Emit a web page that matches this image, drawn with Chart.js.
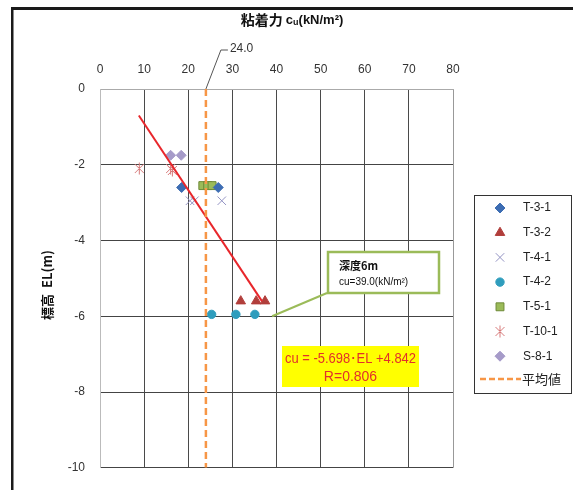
<!DOCTYPE html>
<html>
<head>
<meta charset="utf-8">
<script src="https://cdn.jsdelivr.net/npm/chart.js"></script>
<style>
  html, body { margin: 0; padding: 0; background: #fff; }
</style>
</head>
<body>
<canvas id="chart" width="573" height="490"></canvas>
<script>
// ---- data ----
const xTicks = [0, 10, 20, 30, 40, 50, 60, 70, 80];
const yTicks = [0, -2, -4, -6, -8, -10];

const t31 = [{ x: 18.5, y: -2.6 }, { x: 26.8, y: -2.6 }];
const t32 = [{ x: 31.9, y: -5.6 }, { x: 35.4, y: -5.6 }, { x: 37.4, y: -5.6 }];
const t41 = [{ x: 20.4, y: -2.95 }, { x: 21.4, y: -2.95 }, { x: 27.6, y: -2.95 }];
const t42 = [{ x: 25.3, y: -5.95 }, { x: 30.8, y: -5.95 }, { x: 35.1, y: -5.95 }];
const t51 = [{ x: 23.3, y: -2.55 }, { x: 24.4, y: -2.55 }, { x: 25.4, y: -2.55 }];
const t101 = [{ x: 8.9, y: -2.1 }, { x: 16.0, y: -2.1 }, { x: 16.4, y: -2.15 }];
const s81 = [{ x: 16.0, y: -1.75 }, { x: 18.4, y: -1.75 }];

const meanValue = 24.0;
const meanLine = [{ x: 24.0, y: 0 }, { x: 24.0, y: -10 }];
const fitLine = [{ x: 8.8, y: -0.7 }, { x: 36.7, y: -5.6 }];
const notePoint = { x: 39.0, y: -6.0 };
const noteText = ['深度6m', 'cu=39.0(kN/m²)'];
const fitText = ['cu = -5.698･EL +4.842', 'R=0.806'];

// ---- layout constants ----
const PLOT = { left: 100, top: 89, right: 453, bottom: 483 };
const FONT = "'Liberation Sans', Arial, sans-serif";
const CJK = "'Noto Sans CJK JP', 'Noto Sans', sans-serif";

// excel-like asterisk marker (x + vertical bar)
function makeAsterisk(color) {
  const c = document.createElement('canvas');
  c.width = 13; c.height = 13;
  const g = c.getContext('2d');
  g.strokeStyle = color;
  g.lineWidth = 1;
  g.beginPath();
  g.moveTo(2, 2); g.lineTo(11, 11);
  g.moveTo(11, 2); g.lineTo(2, 11);
  g.moveTo(6.5, 0.5); g.lineTo(6.5, 12.5);
  g.stroke();
  return c;
}
const asterisk = makeAsterisk('#d77a7a');

const series = [
  { label: 'T-3-1', data: t31, pointStyle: 'rectRot', pointRadius: 5, backgroundColor: '#3d6db3', borderColor: '#3d6db3', borderWidth: 1 },
  { label: 'T-3-2', data: t32, pointStyle: 'triangle', pointRadius: 5.5, backgroundColor: '#b13e3b', borderColor: '#b13e3b', borderWidth: 1 },
  { label: 'T-4-1', data: t41, pointStyle: 'crossRot', pointRadius: 6, backgroundColor: '#9494c4', borderColor: '#9494c4', borderWidth: 1 },
  { label: 'T-4-2', data: t42, pointStyle: 'circle', pointRadius: 4.2, backgroundColor: '#2f9dbd', borderColor: '#2f9dbd', borderWidth: 1 },
  { label: 'T-5-1', data: t51, pointStyle: 'rect', pointRadius: 5.6, backgroundColor: '#9bbb59', borderColor: '#6e8a38', borderWidth: 1 },
  { label: 'T-10-1', data: t101, pointStyle: asterisk, pointRadius: 6, backgroundColor: '#d77a7a', borderColor: '#d77a7a', borderWidth: 1 },
  { label: 'S-8-1', data: s81, pointStyle: 'rectRot', pointRadius: 5, backgroundColor: '#a69bc9', borderColor: '#a69bc9', borderWidth: 1 }
];

const datasets = [
  { label: '平均値', data: meanLine, showLine: true, pointRadius: 0, borderColor: '#f79646', borderWidth: 2.5, borderDash: [7, 4] },
  { label: '近似', data: fitLine, showLine: true, pointRadius: 0, borderColor: '#e8262b', borderWidth: 2 }
].concat(series.map(s => Object.assign({ showLine: false, pointHoverRadius: s.pointRadius }, s)));

// small marker drawer for the legend
function drawMarker(ctx, style, x, y, r, fill, stroke) {
  ctx.save();
  ctx.fillStyle = fill;
  ctx.strokeStyle = stroke;
  ctx.lineWidth = 1;
  ctx.beginPath();
  if (typeof style !== 'string') {
    ctx.drawImage(style, x - style.width / 2, y - style.height / 2);
  } else if (style === 'rectRot') {
    ctx.moveTo(x, y - r); ctx.lineTo(x + r, y); ctx.lineTo(x, y + r); ctx.lineTo(x - r, y); ctx.closePath();
    ctx.fill(); ctx.stroke();
  } else if (style === 'triangle') {
    ctx.moveTo(x, y - r); ctx.lineTo(x + r * 0.866, y + r * 0.5); ctx.lineTo(x - r * 0.866, y + r * 0.5); ctx.closePath();
    ctx.fill(); ctx.stroke();
  } else if (style === 'crossRot') {
    const d = r * 0.707;
    ctx.moveTo(x - d, y - d); ctx.lineTo(x + d, y + d);
    ctx.moveTo(x + d, y - d); ctx.lineTo(x - d, y + d);
    ctx.stroke();
  } else if (style === 'circle') {
    ctx.arc(x, y, r, 0, Math.PI * 2);
    ctx.fill(); ctx.stroke();
  } else if (style === 'rect') {
    const s = r * 0.707;
    ctx.rect(x - s, y - s, 2 * s, 2 * s);
    ctx.fill(); ctx.stroke();
  }
  ctx.restore();
}

const decorations = {
  id: 'decorations',
  afterDraw(chart) {
    const ctx = chart.ctx;
    const xs = chart.scales.x, ys = chart.scales.y;
    ctx.save();

    // outer frame (left and top)
    ctx.fillStyle = '#1a1a1a';
    ctx.fillRect(11, 7, 562, 3);
    ctx.fillRect(11, 7, 2.5, 483);

    // top title
    ctx.fillStyle = '#111';
    ctx.textBaseline = 'middle';
    ctx.textAlign = 'left';
    const boldCjk = 'bold 14px ' + CJK;
    const boldLat = 'bold 13px ' + FONT;
    const parts = [['粘着力 ', boldCjk, 0], ['c', boldLat, 0], ['u', 'bold 9px ' + FONT, 3], ['(kN/m²)', boldLat, 0]];
    let total = 0;
    parts.forEach(p => { ctx.font = p[1]; total += ctx.measureText(p[0]).width; });
    let tx = 292 - total / 2;
    parts.forEach(p => { ctx.font = p[1]; ctx.fillText(p[0], tx, 20 + p[2]); tx += ctx.measureText(p[0]).width; });

    // y title
    ctx.save();
    ctx.translate(47, 285);
    ctx.rotate(-Math.PI / 2);
    ctx.textAlign = 'center';
    ctx.font = 'bold 13px ' + CJK;
    ctx.fillText('標高  EL(m)', 0, 0);
    ctx.restore();

    // mean label with leader
    const mx = xs.getPixelForValue(meanValue);
    ctx.strokeStyle = '#555';
    ctx.lineWidth = 1;
    ctx.beginPath();
    ctx.moveTo(mx, PLOT.top);
    ctx.lineTo(mx + 15, 50);
    ctx.lineTo(mx + 22, 50);
    ctx.stroke();
    ctx.fillStyle = '#333';
    ctx.font = '12px ' + FONT;
    ctx.textAlign = 'left';
    ctx.fillText(meanValue.toFixed(1), mx + 24, 49);

    // depth note with leader
    const nx = xs.getPixelForValue(notePoint.x), ny = ys.getPixelForValue(notePoint.y);
    const box = { l: 328, t: 252, w: 111, h: 41 };
    ctx.strokeStyle = '#9bbb59';
    ctx.lineWidth = 2;
    ctx.beginPath();
    ctx.moveTo(nx, ny);
    ctx.lineTo(box.l - 1, box.t + box.h);
    ctx.stroke();
    ctx.fillStyle = '#fff';
    ctx.fillRect(box.l, box.t, box.w, box.h);
    ctx.lineWidth = 2.5;
    ctx.strokeRect(box.l, box.t, box.w, box.h);
    ctx.fillStyle = '#111';
    ctx.font = 'bold 11px ' + CJK;
    ctx.fillText(noteText[0], box.l + 11, box.t + 14);
    ctx.font = '10px ' + FONT;
    ctx.fillText(noteText[1], box.l + 11, box.t + 30);

    // fit equation box
    const eq = { l: 282, t: 346, w: 137, h: 41 };
    ctx.fillStyle = '#ffff00';
    ctx.fillRect(eq.l, eq.t, eq.w, eq.h);
    ctx.fillStyle = '#e2302a';
    ctx.textAlign = 'center';
    ctx.font = '14px ' + FONT;
    ctx.fillText(fitText[0], eq.l + eq.w / 2, eq.t + 13, 131);
    ctx.fillText(fitText[1], eq.l + eq.w / 2, eq.t + 31);

    // legend
    const lg = { l: 474, t: 195, r: 571, b: 393 };
    ctx.fillStyle = '#fff';
    ctx.fillRect(lg.l, lg.t, lg.r - lg.l, lg.b - lg.t);
    ctx.strokeStyle = '#333';
    ctx.lineWidth = 1;
    ctx.strokeRect(lg.l + 0.5, lg.t + 0.5, lg.r - lg.l, lg.b - lg.t);
    ctx.textAlign = 'left';
    ctx.font = '12px ' + FONT;
    series.forEach((s, i) => {
      const y = 208 + i * 24.7;
      drawMarker(ctx, s.pointStyle, 500, y, s.pointRadius, s.backgroundColor, s.borderColor);
      ctx.fillStyle = '#222';
      ctx.fillText(s.label, 523, y);
    });
    const my = 208 + 7 * 24.7 - 2;
    ctx.strokeStyle = '#f79646';
    ctx.lineWidth = 2.5;
    ctx.setLineDash([6, 3]);
    ctx.beginPath();
    ctx.moveTo(480, my);
    ctx.lineTo(521, my);
    ctx.stroke();
    ctx.setLineDash([]);
    ctx.fillStyle = '#222';
    ctx.font = '13px ' + CJK;
    ctx.fillText('平均値', 522, my);

    ctx.restore();
  }
};

new Chart(document.getElementById('chart'), {
  type: 'scatter',
  data: { datasets: datasets },
  options: {
    responsive: false,
    animation: false,
    layout: { padding: { left: 0, top: 0, right: 573 - PLOT.right, bottom: 490 - PLOT.bottom } },
    plugins: { legend: { display: false }, tooltip: { enabled: false } },
    scales: {
      x: {
        type: 'linear',
        position: 'top',
        min: 0, max: 80,
        afterBuildTicks: s => { s.ticks = xTicks.map(v => ({ value: v })); },
        afterFit: s => { s.height = PLOT.top; },
        ticks: { padding: 12, color: '#333', font: { family: FONT, size: 12 } },
        grid: {
          drawTicks: false,
          color: c => (c.tick && c.tick.value === 0 ? '#bbbbbb' : (c.tick && c.tick.value === 80 ? '#999999' : '#4a4a4a')),
          lineWidth: 1
        },
        border: { color: '#aaaaaa' }
      },
      y: {
        type: 'linear',
        min: -10, max: 0,
        afterBuildTicks: s => { s.ticks = yTicks.map(v => ({ value: v })); },
        afterFit: s => { s.width = PLOT.left; },
        ticks: { padding: 15, color: '#333', font: { family: FONT, size: 12 } },
        grid: {
          drawTicks: false,
          color: c => (c.tick && c.tick.value === 0 ? '#aaaaaa' : '#444444'),
          lineWidth: 1
        },
        border: { color: '#bbbbbb' }
      }
    }
  },
  plugins: [decorations]
});
</script>
</body>
</html>
